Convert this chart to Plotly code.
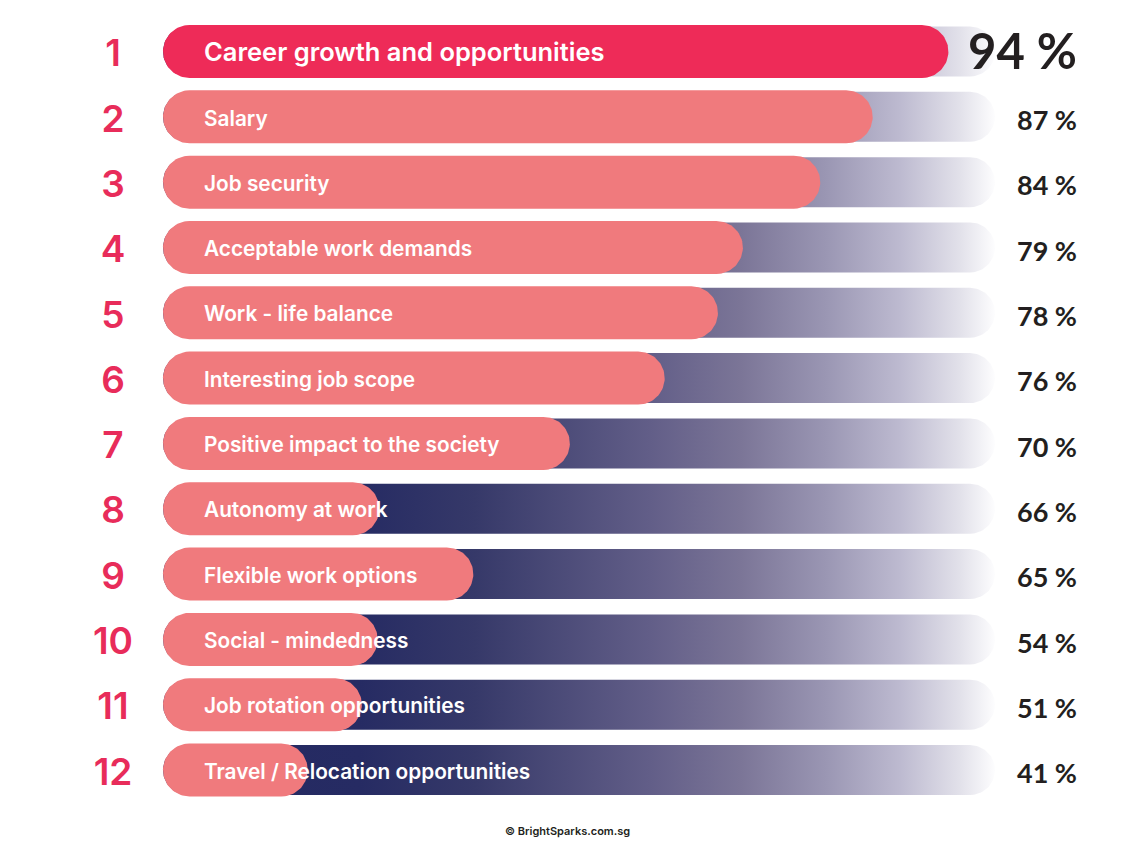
import numpy as np
import plotly.graph_objects as go

# ---- data ----
ranks = list(range(1, 13))
labels = [
    "Career growth and opportunities",
    "Salary",
    "Job security",
    "Acceptable work demands",
    "Work - life balance",
    "Interesting job scope",
    "Positive impact to the society",
    "Autonomy at work",
    "Flexible work options",
    "Social - mindedness",
    "Job rotation opportunities",
    "Travel / Relocation opportunities",
]
values = [94, 87, 84, 79, 78, 76, 70, 66, 65, 54, 51, 41]
# drawn length of the pink pill (as % of the full track)
bar_extent = [94.4, 85.3, 79.0, 69.7, 66.7, 60.3, 48.9, 26.0, 37.3, 25.8, 23.9, 17.4]
track_extent = [100] * 12
value_text = [f"{v} %" for v in values]

# ---- layout constants (pixel geometry of the axes) ----
W, H = 1135, 845
X0_PX, PX_PER_X = 163.0, 8.32     # x=0 at 163px, 1 unit = 8.32px
Y0_PX, PX_PER_Y = 51.5, 65.32     # rank 1 centred at 51.5px
x_range = [-X0_PX / PX_PER_X, (W - X0_PX) / PX_PER_X]
y_range = [1 + (H - Y0_PX) / PX_PER_Y, 1 - Y0_PX / PX_PER_Y]

PINK_TOP = "#ee2b58"
PINK = "#f07a7d"
RANK_COL = "#e82c5a"
TXT_DARK = "#231f20"

grad = [
    [0.0, "#232961"],
    [0.237, "#262b63"],
    [0.375, "#363969"],
    [0.585, "#625e88"],
    [0.694, "#7b7597"],
    [0.796, "#9a96b3"],
    [0.886, "#bdbad0"],
    [0.958, "#e2e1ea"],
    [1.0, "#fdfdfe"],
]


def pill(x0, x1, yc, h_px, n=48):
    r = h_px / 2.0
    rx, ry = r / PX_PER_X, r / PX_PER_Y
    t1 = np.linspace(-np.pi / 2, np.pi / 2, n)
    t2 = np.linspace(np.pi / 2, 3 * np.pi / 2, n)
    xs = np.concatenate([(x1 - rx) + rx * np.cos(t1), (x0 + rx) + rx * np.cos(t2)])
    ys = np.concatenate([yc + ry * np.sin(t1), yc + ry * np.sin(t2)])
    xs = np.append(xs, xs[0])
    ys = np.append(ys, ys[0])
    return xs, ys


def shifted(rs, px):
    return [r + px / PX_PER_Y for r in rs]


fig = go.Figure()

for i, r in enumerate(ranks):
    tx, ty = pill(0, track_extent[i], r, 50)
    fig.add_trace(go.Scatter(
        x=tx, y=ty, mode="lines", line=dict(width=0), fill="toself",
        fillgradient=dict(type="horizontal", colorscale=grad, start=0, stop=100),
        hoverinfo="skip", showlegend=False))
    px_, py_ = pill(0, bar_extent[i], r, 53)
    fig.add_trace(go.Scatter(
        x=px_, y=py_, mode="lines", line=dict(width=0), fill="toself",
        fillcolor=PINK_TOP if i == 0 else PINK,
        hoverinfo="skip", showlegend=False))

# rank numbers
fig.add_trace(go.Scatter(
    x=[(113 - X0_PX) / PX_PER_X] * 12, y=shifted(ranks, 5.5), mode="text",
    text=[str(r) for r in ranks], textposition="middle center",
    textfont=dict(family="Inter", size=37, color=RANK_COL, weight=600),
    hoverinfo="skip", showlegend=False))

# labels
fig.add_trace(go.Scatter(
    x=[(204 - X0_PX) / PX_PER_X] * 12, y=shifted(ranks, 3.5), mode="text",
    text=labels, textposition="middle right",
    textfont=dict(family="Inter", size=[25.5] + [20.8] * 11, color="white", weight=600),
    hoverinfo="skip", showlegend=False))

# values
fig.add_trace(go.Scatter(
    x=[(1077 - X0_PX) / PX_PER_X] * 12,
    y=[r + (5 if i == 0 else 6.5) / PX_PER_Y for i, r in enumerate(ranks)],
    mode="text",
    text=value_text, textposition="middle left",
    textfont=dict(family="Lato", size=[49] + [27] * 11, color=TXT_DARK, weight=700),
    hoverinfo="skip", showlegend=False))

fig.add_annotation(
    text="© BrightSparks.com.sg", x=567 / W, y=1 - 831 / H, xref="paper", yref="paper",
    showarrow=False, font=dict(family="Inter", size=11, color=TXT_DARK, weight=600),
    xanchor="center", yanchor="middle")

fig.update_layout(
    width=W, height=H, margin=dict(l=0, r=0, t=0, b=0),
    paper_bgcolor="white", plot_bgcolor="white",
    xaxis=dict(range=x_range, visible=False, fixedrange=True),
    yaxis=dict(range=y_range, visible=False, fixedrange=True),
)

fig.write_html("out.html")
